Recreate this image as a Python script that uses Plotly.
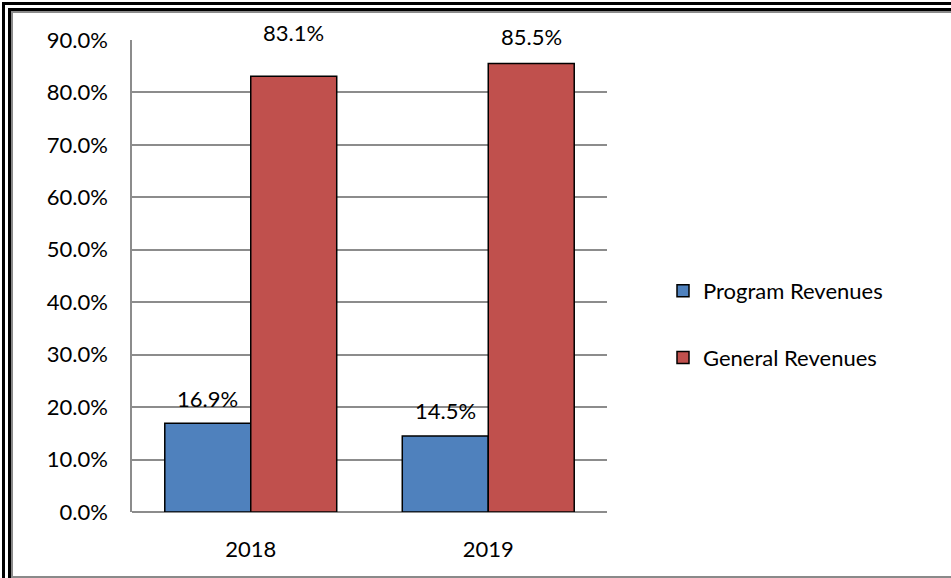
import plotly.graph_objects as go

years = ["2018", "2019"]
program_revenues = [16.9, 14.5]
general_revenues = [83.1, 85.5]
series_names = ["Program Revenues", "General Revenues"]
y_tick_values = [0, 10, 20, 30, 40, 50, 60, 70, 80, 90]
y_tick_labels = ["0.0%", "10.0%", "20.0%", "30.0%", "40.0%", "50.0%", "60.0%", "70.0%", "80.0%", "90.0%"]

W, H = 951, 578
L, R, T, B = 132, 344, 40, 66
FONT = "Lato"
FS = 22
BARGAP = 0.276

fig = go.Figure()
fig.add_trace(go.Bar(x=years, y=program_revenues, name=series_names[0],
                     marker=dict(color="#4F81BD", line=dict(color="black", width=1.5)),
                     legendgroup="a"))
fig.add_trace(go.Bar(x=years, y=general_revenues, name=series_names[1],
                     marker=dict(color="#C0504D", line=dict(color="black", width=1.5)),
                     legendgroup="b"))

# data labels
half = (1 - BARGAP) / 4
label_shift = [[9, 10], [28, 12]]
annotations = []
for si, vals in enumerate([program_revenues, general_revenues]):
    off = -half if si == 0 else half
    for ci, v in enumerate(vals):
        annotations.append(dict(x=ci + off, y=v, xref="x", yref="y", text=f"{v:.1f}%",
                                showarrow=False, yanchor="bottom", yshift=label_shift[si][ci],
                                font=dict(family=FONT, size=FS, color="black")))

pw, ph = W - L - R, H - T - B
def px(x): return (x - L) / pw
def py(y): return (H - B - y) / ph

XR = W + 2
shapes = [
    dict(type="line", xref="paper", yref="paper", x0=px(3.5), y0=py(H + 2), x1=px(3.5), y1=py(2),
         line=dict(color="black", width=3)),
    dict(type="line", xref="paper", yref="paper", x0=px(2), y0=py(3.5), x1=px(XR), y1=py(3.5),
         line=dict(color="black", width=3)),
    dict(type="line", xref="paper", yref="paper", x0=px(9.5), y0=py(H + 2), x1=px(9.5), y1=py(8),
         line=dict(color="black", width=3)),
    dict(type="line", xref="paper", yref="paper", x0=px(8), y0=py(9.5), x1=px(XR), y1=py(9.5),
         line=dict(color="black", width=3)),
    dict(type="line", xref="paper", yref="paper", x0=px(12), y0=py(577), x1=px(12), y1=py(11),
         line=dict(color="#8a8a8a", width=2)),
    dict(type="line", xref="paper", yref="paper", x0=px(11), y0=py(12), x1=px(XR), y1=py(12),
         line=dict(color="#8a8a8a", width=2)),
    dict(type="line", xref="paper", yref="paper", x0=px(11), y0=py(577), x1=px(XR), y1=py(577),
         line=dict(color="#8a8a8a", width=2)),
]

fig.update_layout(
    width=W, height=H, autosize=False,
    margin=dict(l=L, r=R, t=T, b=B, pad=0),
    paper_bgcolor="white", plot_bgcolor="white",
    barmode="group", bargap=BARGAP, bargroupgap=0,
    font=dict(family=FONT, size=FS, color="black"),
    showlegend=True,
    legend=dict(x=px(663), y=py(270), xanchor="left", yanchor="top",
                tracegroupgap=35, font=dict(family=FONT, size=FS, color="black"),
                bgcolor="rgba(0,0,0,0)", traceorder="grouped"),
    xaxis=dict(showline=False, showgrid=False, ticks="", tickfont=dict(size=FS),
               ticklabelstandoff=22),
    yaxis=dict(range=[0, 90], tickvals=y_tick_values, ticktext=y_tick_labels,
               showgrid=True, gridcolor="#8c8c8c", gridwidth=1.5,
               showline=True, linecolor="#8c8c8c", linewidth=1.5,
               zeroline=True, zerolinecolor="#8c8c8c", zerolinewidth=1.5,
               ticks="", ticklabelstandoff=18, tickfont=dict(size=FS)),
    annotations=annotations,
    shapes=shapes,
)

fig.write_html("out.html", config={"displayModeBar": False},
               post_script="document.body.style.margin='0';document.body.style.overflow='hidden';")
